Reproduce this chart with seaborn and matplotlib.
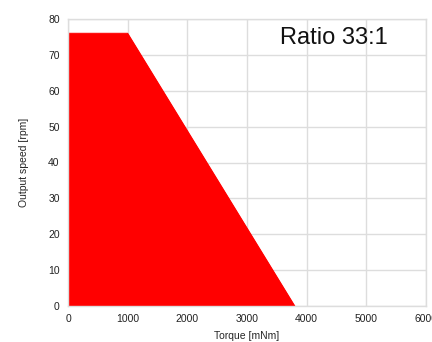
import numpy as np
import pandas as pd
import seaborn as sns
import matplotlib
matplotlib.use('Agg')
import matplotlib.pyplot as plt

# operating range of the gearmotor
torque = [0, 1000, 3800]
speed = [76, 76, 0]
x_ticks = [0, 1000, 2000, 3000, 4000, 5000, 6000]
y_ticks = [0, 10, 20, 30, 40, 50, 60, 70, 80]

sns.set_style('whitegrid')
plt.rcParams['font.family'] = ['Liberation Sans', 'DejaVu Sans']

df = pd.DataFrame({'torque': torque, 'speed': speed})

fig = plt.figure(figsize=(4.32, 3.42), dpi=100)
ax = fig.add_axes([68 / 432, 1 - 306 / 342, (426 - 68) / 432, (306 - 19) / 342])

sns.lineplot(data=df, x='torque', y='speed', color='#ff0000', linewidth=0.8, ax=ax)
ax.fill_between(df['torque'], df['speed'], 0, color='#ff0000', linewidth=0, zorder=2)

ax.set_xlim(0, 6000)
ax.set_ylim(0, 80)
ax.set_xticks(x_ticks)
ax.set_yticks(y_ticks)
ax.tick_params(labelsize=7.5, length=0, pad=6, colors='#222222')
ax.grid(True, color='#dddddd', linewidth=1)
for s in ax.spines.values():
    s.set_color('#dddddd')
    s.set_linewidth(1)

ax.set_xlabel('Torque [mNm]', fontsize=7.5, labelpad=5)
ax.set_ylabel('Output speed [rpm]', fontsize=7.5, labelpad=14)
ax.text(4450, 74.7, 'Ratio 33:1', fontsize=17, ha='center', va='center', color='#111111')

fig.savefig('out.png', dpi=100)
